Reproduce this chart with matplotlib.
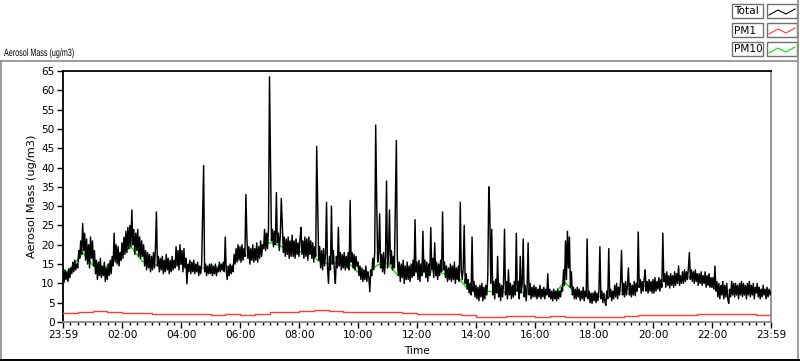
import numpy as np
import matplotlib
matplotlib.use("Agg")
import matplotlib.pyplot as plt
from matplotlib.lines import Line2D
from matplotlib.patches import Rectangle
from matplotlib.patheffects import AbstractPathEffect
from matplotlib.transforms import Affine2D

# ---------------- data ----------------
step_total = 2      # minutes between Total samples (starting 23:59)
total = [
    # hour 0
    12.5, 10.2, 13.5, 11.0, 13.0, 10.5, 13.8, 11.5, 14.0, 12.5, 15.5, 13.0, 16.0, 13.5, 15.0,
    14.0, 18.5, 16.5, 21.0, 17.5, 25.5, 18.5, 23.0, 16.0, 21.5, 15.0, 20.0, 14.0, 22.0, 16.5,
    # hour 1
    21.0, 14.5, 18.5, 12.5, 16.0, 11.0, 15.5, 12.0, 16.5, 11.5, 14.5, 12.0, 15.5, 10.5, 14.0,
    11.0, 15.0, 12.0, 16.0, 12.5, 17.0, 14.5, 23.0, 15.5, 20.0, 15.0, 19.5, 14.5, 18.0, 16.0,
    # hour 2
    20.5, 16.5, 22.0, 17.5, 23.5, 18.0, 24.5, 19.0, 25.0, 19.5, 29.0, 20.0, 24.0, 17.5, 23.0,
    18.5, 24.0, 17.0, 22.0, 16.5, 21.0, 17.0, 20.0, 14.5, 18.5, 13.5, 18.0, 14.0, 17.5, 13.0,
    # hour 3
    17.0, 13.5, 18.0, 14.0, 19.0, 28.5, 14.5, 17.0, 13.0, 16.5, 13.5, 17.0, 12.5, 16.0, 13.0,
    17.5, 13.5, 16.5, 12.5, 16.0, 13.0, 17.0, 13.5, 16.0, 14.0, 19.5, 14.5, 18.5, 13.5, 20.0,
    # hour 4
    15.0, 18.5, 13.0, 19.0, 14.0, 16.5, 9.9, 15.0, 13.0, 16.0, 12.5, 15.5, 13.0, 16.0, 12.5,
    15.0, 13.0, 15.5, 12.0, 14.5, 12.5, 15.0, 28.0, 40.5, 13.0, 15.0, 12.0, 14.5, 12.5, 15.0,
    # hour 5
    12.5, 15.0, 12.0, 14.5, 12.5, 15.0, 12.0, 14.0, 13.0, 15.5, 13.0, 15.0, 13.5, 15.5, 13.0,
    22.0, 13.5, 11.0, 14.5, 12.0, 15.0, 12.5, 14.5, 13.0, 17.5, 15.0, 19.0, 15.5, 20.0, 16.0,
    # hour 6
    19.5, 15.5, 20.0, 16.0, 19.0, 17.0, 33.0, 22.0, 16.5, 19.5, 15.0, 19.0, 16.0, 20.0, 15.5,
    19.0, 16.0, 20.5, 15.5, 19.5, 16.5, 21.0, 17.0, 20.0, 19.0, 24.0, 18.5, 23.0, 19.0, 24.5,
    # hour 7
    63.5, 43.0, 21.0, 24.0, 19.5, 23.5, 20.0, 33.5, 20.5, 23.0, 18.5, 22.5, 32.0, 25.5, 18.0,
    22.0, 17.0, 21.5, 17.5, 22.0, 16.5, 21.0, 17.0, 22.5, 17.0, 21.0, 16.5, 21.5, 17.5, 20.5,
    # hour 8
    17.0, 21.5, 24.5, 17.5, 21.0, 16.5, 22.0, 17.0, 21.5, 16.0, 22.0, 17.5, 21.0, 16.5, 20.5,
    15.5, 19.5, 17.0, 45.5, 31.5, 16.0, 19.5, 14.0, 18.5, 13.5, 19.0, 14.5, 17.5, 31.0, 14.0,
    # hour 9
    10.0, 17.0, 13.5, 30.0, 15.0, 18.5, 13.0, 10.0, 17.0, 14.0, 24.5, 14.5, 18.0, 13.5, 17.5,
    14.0, 18.0, 13.5, 17.0, 14.0, 18.0, 13.5, 31.5, 15.5, 18.0, 14.0, 17.5, 13.5, 17.0, 14.5,
    # hour 10
    15.5, 12.0, 14.5, 11.0, 14.0, 10.5, 13.5, 11.0, 14.5, 10.5, 13.0, 11.5, 7.8, 13.5, 12.0,
    16.5, 13.5, 18.0, 51.0, 31.5, 15.5, 18.0, 28.0, 14.0, 17.5, 13.0, 18.0, 12.5, 17.0, 36.5,
    # hour 11
    14.0, 17.5, 29.0, 15.0, 18.5, 13.5, 17.0, 14.0, 31.0, 47.0, 16.5, 12.0, 15.5, 10.5, 15.0,
    11.5, 16.0, 10.0, 14.5, 11.0, 15.5, 11.0, 14.5, 10.5, 15.0, 11.5, 16.0, 12.0, 26.5, 13.0,
    # hour 12
    15.5, 11.0, 16.0, 10.5, 15.0, 12.0, 23.5, 13.0, 16.0, 11.5, 15.5, 10.5, 15.0, 12.0, 24.5,
    13.5, 16.5, 11.5, 20.5, 12.0, 15.5, 11.0, 15.0, 12.0, 16.0, 13.0, 28.5, 13.5, 15.5, 11.5,
    # hour 13
    14.5, 10.5, 14.0, 11.0, 15.0, 10.5, 14.5, 11.0, 15.5, 10.0, 14.0, 11.0, 14.5, 10.5, 31.0,
    13.5, 11.0, 14.0, 25.0, 10.0, 12.5, 8.5, 11.0, 7.5, 10.0, 7.0, 22.0, 8.0, 10.5, 6.5,
    # hour 14
    9.5, 6.0, 9.0, 5.5, 9.5, 6.5, 10.0, 5.5, 9.0, 6.0, 9.5, 7.0, 12.0, 35.0, 29.0,
    10.0, 24.0, 7.0, 10.5, 6.0, 11.0, 7.5, 17.0, 6.5, 10.0, 5.5, 9.5, 6.5, 10.0, 24.0,
    # hour 15
    7.0, 10.5, 6.0, 13.5, 7.0, 10.0, 6.0, 9.5, 6.5, 10.5, 7.0, 23.0, 8.0, 10.5, 6.0,
    17.0, 7.5, 10.0, 21.5, 6.5, 9.5, 5.5, 9.0, 20.5, 7.0, 10.0, 6.0, 9.0, 6.5, 9.5,
    # hour 16
    6.5, 9.0, 6.0, 8.5, 6.5, 9.5, 6.0, 8.5, 6.5, 9.0, 6.0, 8.5, 7.0, 12.5, 6.5,
    8.5, 6.0, 8.0, 5.5, 8.5, 6.0, 8.0, 5.5, 8.5, 6.0, 8.0, 6.5, 9.0, 8.0, 13.5,
    # hour 17
    9.5, 21.0, 11.0, 23.5, 14.0, 22.0, 9.0, 13.0, 7.0, 9.0, 6.0, 8.5, 6.0, 9.0, 6.5,
    8.5, 5.5, 8.0, 6.0, 9.0, 5.5, 8.0, 6.5, 21.5, 6.0, 8.0, 5.0, 7.5, 4.8, 7.5,
    # hour 18
    5.5, 8.0, 5.0, 7.5, 5.5, 8.0, 19.5, 6.0, 8.0, 5.0, 7.5, 5.5, 4.3, 8.0, 6.0,
    19.0, 6.5, 8.5, 5.5, 8.0, 6.0, 9.5, 6.5, 10.0, 6.0, 9.0, 7.0, 10.5, 18.5, 7.0,
    # hour 19
    10.0, 6.5, 10.5, 7.0, 9.5, 14.0, 7.0, 10.0, 6.5, 9.5, 7.0, 10.5, 6.8, 10.0, 8.0,
    23.3, 9.0, 11.0, 7.5, 10.5, 8.0, 11.0, 13.5, 8.0, 10.5, 7.5, 11.0, 8.0, 10.5, 7.5,
    # hour 20
    11.0, 7.5, 11.5, 8.0, 10.5, 8.5, 11.5, 8.0, 11.0, 9.0, 23.0, 10.5, 12.5, 9.0, 13.0,
    9.5, 12.0, 8.8, 12.5, 9.5, 12.0, 9.0, 13.0, 9.5, 12.5, 10.0, 14.5, 9.5, 12.0, 10.0,
    # hour 21
    13.0, 10.0, 13.5, 10.5, 13.0, 11.0, 14.0, 18.0, 11.0, 13.5, 10.5, 13.0, 10.0, 13.5, 10.5,
    12.5, 9.5, 12.5, 10.0, 13.0, 9.5, 12.0, 10.0, 13.0, 9.0, 12.0, 9.5, 12.5, 9.0, 11.5,
    # hour 22
    9.0, 11.5, 8.5, 14.5, 8.0, 10.5, 6.5, 10.0, 6.0, 9.5, 7.0, 10.5, 6.0, 9.5, 6.5,
    10.0, 6.0, 4.8, 8.5, 6.5, 10.5, 7.0, 10.0, 6.5, 10.0, 7.0, 9.5, 6.0, 10.0, 7.0,
    # hour 23
    10.5, 6.5, 10.0, 7.0, 9.5, 6.0, 10.0, 7.0, 10.5, 6.5, 9.5, 7.0, 10.0, 6.0, 9.0,
    7.5, 10.0, 6.5, 9.0, 6.0, 8.5, 6.5, 9.5, 7.0, 8.5, 6.0, 9.0, 6.5, 8.5, 7.0, 8.0,
]

step_pm10 = 20
pm10 = [12.3, 14.5, 18.0, 14.8, 13.2, 16.0, 18.3, 19.3, 15.8, 15.0, 14.5, 14.8, 15.0, 14.2,
        14.0, 13.8, 14.6, 14.0, 17.2, 17.2, 18.2, 20.6, 19.8, 18.5, 18.2, 18.3, 15.8, 15.0,
        15.5, 15.5, 12.8, 12.6, 14.8, 15.2, 12.2, 12.5, 12.8, 12.8, 13.2, 12.2, 12.2, 9.0,
        7.4, 8.0, 7.8, 7.8, 8.0, 7.6, 7.6, 7.6, 7.3, 10.5, 7.6, 7.0, 6.6, 6.6, 7.8, 8.4,
        8.6, 9.4, 9.6, 10.6, 10.8, 11.7, 11.6, 11.0, 9.0, 7.9, 8.2, 8.1, 8.0, 7.8, 7.8]

step_pm1 = 30
pm1 = [2.3, 2.5, 2.8, 2.5, 2.4, 2.3, 2.2, 2.2, 2.0, 2.0, 1.9, 2.0, 1.9, 2.2, 2.6,
       2.7, 2.9, 3.0, 2.8, 2.5, 2.5, 2.5, 2.6, 2.3, 2.2, 2.2, 2.0, 1.8, 1.4, 1.4,
       1.5, 1.5, 1.4, 1.5, 1.3, 1.3, 1.3, 1.4, 1.5, 1.7, 1.8, 1.9, 1.9, 2.0, 2.0,
       2.0, 2.0, 1.9, 2.0]

tick_labels = ["23:59", "02:00", "04:00", "06:00", "08:00", "10:00", "12:00",
               "14:00", "16:00", "18:00", "20:00", "22:00", "23:59"]
tick_minutes = [0, 121, 241, 361, 481, 601, 721, 841, 961, 1081, 1201, 1321, 1440]
y_ticks = list(range(0, 66, 5))

series_names = ["Total", "PM1", "PM10"]
series_colors = ["#000000", "#ff3c3c", "#00e600"]

plt.rcParams['font.family'] = ['DejaVu Sans']

W, H = 800, 361
fig = plt.figure(figsize=(W / 100, H / 100), dpi=100)


def fx(px):
    return px / W


def fy(py):
    return 1 - py / H


class HScale(AbstractPathEffect):
    """Draw text condensed horizontally about a display x position."""
    def __init__(self, sx, x0):
        super().__init__()
        self.sx = sx
        self.x0 = x0

    def draw_path(self, renderer, gc, tpath, affine, rgbFace=None):
        aff = affine + Affine2D().translate(-self.x0, 0).scale(self.sx, 1).translate(self.x0, 0)
        renderer.draw_path(gc, tpath, aff, rgbFace)


ax = fig.add_axes([fx(63), fy(322), 708 / W, 251 / H])

x_total = np.arange(len(total)) * step_total
x_pm10 = np.arange(len(pm10)) * step_pm10
x_pm1 = np.arange(len(pm1)) * step_pm1

ax.plot(x_pm10, pm10, color=series_colors[2], lw=1.0, zorder=2)
ax.plot(x_total, total, color=series_colors[0], lw=1.05, zorder=3)
ax.plot(x_pm1, pm1, color=series_colors[1], lw=1.0, drawstyle="steps-post", zorder=4)

ax.set_xlim(0, 1440)
ax.set_ylim(0, 65)
ax.set_yticks(y_ticks)
ax.set_yticklabels([str(v) for v in y_ticks])
ax.set_xticks(tick_minutes)
ax.set_xticklabels(tick_labels)
minor = []
for a, b in zip(tick_minutes[:-1], tick_minutes[1:]):
    minor.extend(list(np.linspace(a, b, 9)[1:-1]))
ax.set_xticks(minor, minor=True)

ax.tick_params(axis="both", which="major", labelsize=7.6, length=4, width=1, pad=2,
               color="black", labelcolor="black")
ax.tick_params(axis="x", which="minor", length=2.5, width=1, color="black")
ax.tick_params(axis="y", which="major", pad=2)

for s in ["top", "left"]:
    ax.spines[s].set_color("black")
    ax.spines[s].set_linewidth(1.3)
for s in ["right", "bottom"]:
    ax.spines[s].set_color("#8c8c8c")
    ax.spines[s].set_linewidth(1.3)

ax.set_xlabel("Time", fontsize=7.6, labelpad=4)
ax.set_ylabel("Aerosol Mass (ug/m3)", fontsize=8.2, labelpad=3)

# title at top-left (condensed face, like the original panel font)
fig.text(fx(4), fy(53), "Aerosol Mass (ug/m3)", fontsize=7.6,
         family=["Liberation Sans", "DejaVu Sans"], ha="left", va="center",
         path_effects=[HScale(0.68, 4)])

# outer panel frame
gray = "#8c8c8c"
fig.add_artist(Line2D([fx(0), fx(797)], [fy(61), fy(61)], color=gray, lw=1.2,
                      transform=fig.transFigure))
fig.add_artist(Line2D([fx(1), fx(1)], [fy(61), fy(361)], color=gray, lw=1.2,
                      transform=fig.transFigure))
fig.add_artist(Line2D([fx(797.5), fx(797.5)], [fy(0), fy(361)], color=gray, lw=1.2,
                      transform=fig.transFigure))
fig.add_artist(Line2D([fx(0), fx(800)], [fy(360), fy(360)], color="black", lw=1.4,
                      transform=fig.transFigure))

# legend boxes
rows_y = [4, 23, 42]
for name, col, top in zip(series_names, series_colors, rows_y):
    fig.add_artist(Rectangle((fx(732), fy(top + 14)), 31 / W, 14 / H, fill=False,
                             edgecolor="#707070", lw=1.0, transform=fig.transFigure))
    fig.text(fx(734), fy(top + 7.5), name, fontsize=7.6, ha="left", va="center")
    fig.add_artist(Rectangle((fx(767), fy(top + 14)), 30 / W, 14 / H, fill=False,
                             edgecolor="#707070", lw=1.0, transform=fig.transFigure))
    zx = [769, 778, 786, 795]
    zy = [top + 11, top + 6, top + 10, top + 5]
    fig.add_artist(Line2D([fx(v) for v in zx], [fy(v) for v in zy], color=col, lw=0.8,
                          transform=fig.transFigure))

fig.savefig("out.png", dpi=100)
